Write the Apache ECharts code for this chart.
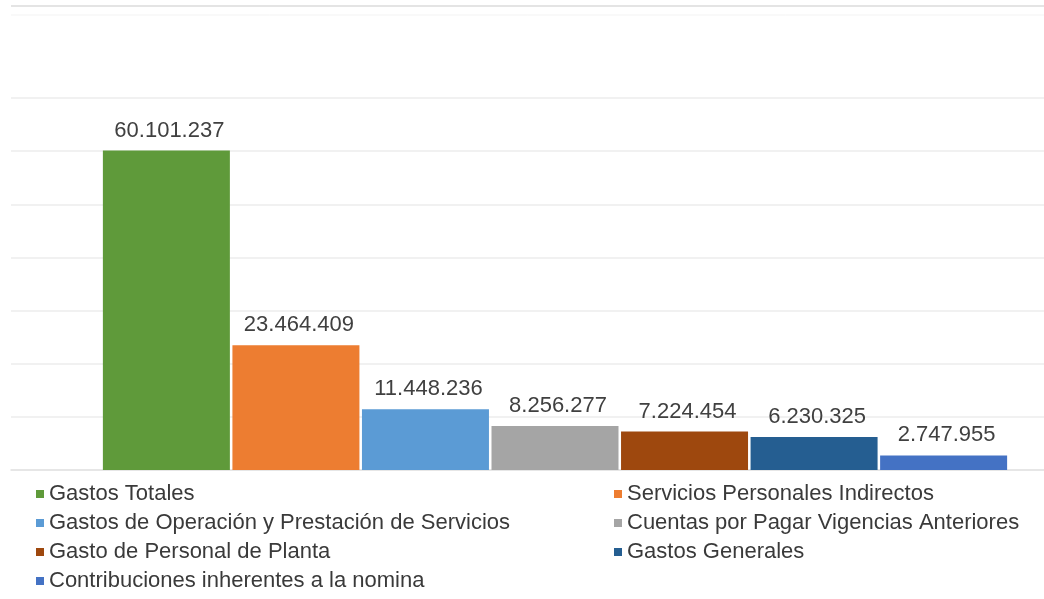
<!DOCTYPE html>
<html>
<head>
<meta charset="utf-8">
<script src="https://cdn.jsdelivr.net/npm/echarts@6/dist/echarts.min.js"></script>
<style>
  html, body { margin: 0; padding: 0; background: #ffffff; }
  #chart { width: 1044px; height: 599px; }
</style>
</head>
<body>
<div id="chart"></div>
<script>
// Expense items (one clustered group, one series per item)
const seriesNames = [
  'Gastos Totales',
  'Servicios Personales Indirectos',
  'Gastos de Operación y Prestación de Servicios',
  'Cuentas por Pagar Vigencias Anteriores',
  'Gasto de Personal de Planta',
  'Gastos Generales',
  'Contribuciones inherentes a la nomina'
];
const seriesValues = [60101237, 23464409, 11448236, 8256277, 7224454, 6230325, 2747955];
const seriesColors = ['#5f9a3a', '#ed7d31', '#5b9bd5', '#a5a5a5', '#9e480e', '#255e91', '#4472c4'];
const categories = [''];

// Thousands separated with dots
function fmt(v) {
  return String(Math.round(v)).replace(/\B(?=(\d{3})+(?!\d))/g, '.');
}

const chart = echarts.init(document.getElementById('chart'), null, { renderer: 'canvas' });

const series = seriesNames.map((name, i) => ({
  name: name,
  type: 'bar',
  xAxisIndex: 1,
  yAxisIndex: 1,
  data: [seriesValues[i]],
  barWidth: 127,
  barGap: '2%',
  itemStyle: { color: seriesColors[i] },
  label: {
    show: true,
    position: 'top',
    distance: 9,
    offset: [3, 0],
    formatter: p => fmt(p.value),
    color: '#404040',
    fontFamily: 'Liberation Sans, Arial, sans-serif',
    fontSize: 22
  },
  emphasis: { disabled: true }
}));

const legendText = {
  color: '#3a3a3a',
  fontFamily: 'Liberation Sans, Arial, sans-serif',
  fontSize: 22,
  lineHeight: 20
};

const yScale = { type: 'value', min: 0, max: 70000000, interval: 10000000 };

chart.setOption({
  animation: false,
  backgroundColor: '#ffffff',
  grid: [
    // full-width plot area carrying the gridlines
    { left: 11, top: 98, right: 0, bottom: 129, containLabel: false },
    // bar group area (plot area continues past the right edge)
    { left: 66, top: 98, right: 0, bottom: 129, containLabel: false }
  ],
  xAxis: [
    {
      gridIndex: 0,
      type: 'category',
      data: categories,
      axisLine: { show: true, lineStyle: { color: '#e2e2e2', width: 1.5 } },
      axisTick: { show: false },
      axisLabel: { show: false }
    },
    {
      gridIndex: 1,
      type: 'category',
      data: categories,
      axisLine: { show: false },
      axisTick: { show: false },
      axisLabel: { show: false }
    }
  ],
  yAxis: [
    Object.assign({
      gridIndex: 0,
      axisLine: { show: false },
      axisTick: { show: false },
      axisLabel: { show: false },
      splitLine: { show: true, lineStyle: { color: '#ececec', width: 1.5 } }
    }, yScale),
    Object.assign({
      gridIndex: 1,
      axisLine: { show: false },
      axisTick: { show: false },
      axisLabel: { show: false },
      splitLine: { show: false }
    }, yScale)
  ],
  legend: [
    {
      data: [seriesNames[0], seriesNames[2], seriesNames[4], seriesNames[6]],
      orient: 'vertical',
      left: 36,
      top: 483,
      padding: 0,
      itemWidth: 8,
      itemHeight: 8,
      itemGap: 7,
      icon: 'rect',
      textStyle: legendText,
      selectedMode: false
    },
    {
      data: [seriesNames[1], seriesNames[3], seriesNames[5]],
      orient: 'vertical',
      left: 614,
      top: 483,
      padding: 0,
      itemWidth: 8,
      itemHeight: 8,
      itemGap: 7,
      icon: 'rect',
      textStyle: legendText,
      selectedMode: false
    }
  ],
  graphic: [
    { type: 'line', shape: { x1: 11, y1: 6, x2: 1044, y2: 6 }, style: { stroke: '#e4e4e4', lineWidth: 2 } },
    { type: 'line', shape: { x1: 11, y1: 15, x2: 1044, y2: 15 }, style: { stroke: '#f3f3f3', lineWidth: 1 } }
  ],
  series: series
});
</script>
</body>
</html>
